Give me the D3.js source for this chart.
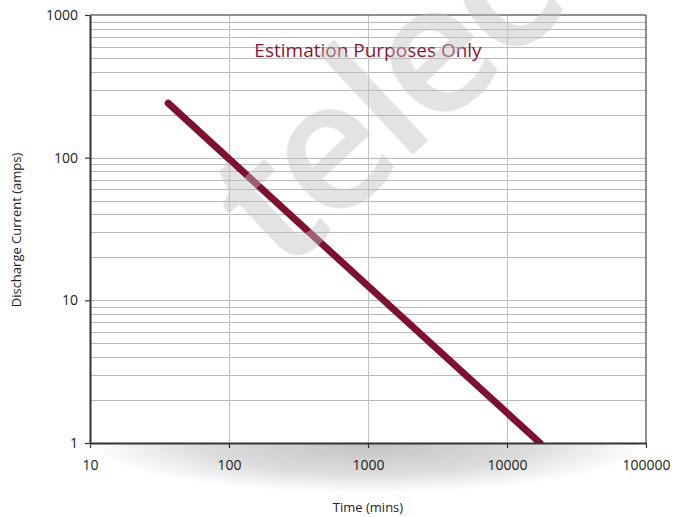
<!DOCTYPE html>
<html>
<head>
<meta charset="utf-8">
<script src="https://cdn.jsdelivr.net/npm/d3@7"></script>
<style>
  html, body { margin: 0; padding: 0; background: #fff; }
  svg { display: block; }
</style>
</head>
<body>
<svg id="chart" width="673" height="517"></svg>
<script>
// ---- data ----
const timeMins = [36.5, 100, 1000, 10000, 17300];
const currentAmps = [241, 98, 12.6, 1.63, 1];
const xTickValues = [10, 100, 1000, 10000, 100000];
const xTickLabels = ["10", "100", "1000", "10000", "100000"];
const yTickValues = [1, 10, 100, 1000];
const yTickLabels = ["1", "10", "100", "1000"];
const titleText = "Estimation Purposes Only";
const xTitle = "Time (mins)";
const yTitle = "Discharge Current (amps)";
const watermarkText = "telecom";

const svg = d3.select("#chart");
const W = 673, H = 517;
const m = { left: 90, right: 27, top: 15, bottom: 74 };
const pw = W - m.left - m.right, ph = H - m.top - m.bottom;

const x = d3.scaleLog().domain([10, 100000]).range([m.left, m.left + pw]);
const y = d3.scaleLog().domain([1, 1000]).range([m.top + ph, m.top]);

const defs = svg.append("defs");
const grad = defs.append("radialGradient").attr("id", "shadow")
  .attr("cx", "50%").attr("cy", "50%").attr("r", "50%")
  .attr("fx", "50%").attr("fy", "50%");
grad.append("stop").attr("offset", "0%").attr("stop-color", "#c2c2c2");
grad.append("stop").attr("offset", "60%").attr("stop-color", "#dcdcdc");
grad.append("stop").attr("offset", "100%").attr("stop-color", "#ffffff");
defs.append("clipPath").attr("id", "below").append("rect")
  .attr("x", 0).attr("y", m.top + ph).attr("width", W).attr("height", 100);
defs.append("clipPath").attr("id", "plot").append("rect")
  .attr("x", m.left).attr("y", m.top).attr("width", pw).attr("height", ph);

// bottom shadow
svg.append("ellipse")
  .attr("cx", m.left + pw / 2).attr("cy", m.top + ph)
  .attr("rx", pw / 2 + 2).attr("ry", 50)
  .attr("fill", "url(#shadow)")
  .attr("clip-path", "url(#below)");

// grid
const minorY = [];
for (let d = 1; d < 1000; d *= 10) for (let k = 1; k <= 9; k++) minorY.push(d * k);
svg.append("g").selectAll("line").data(minorY.filter(v => v > 1 && v < 1000)).join("line")
  .attr("x1", m.left).attr("x2", m.left + pw)
  .attr("y1", d => Math.round(y(d)) + 0.5).attr("y2", d => Math.round(y(d)) + 0.5)
  .attr("stroke", "#b9b9b9").attr("stroke-width", 1);
svg.append("g").selectAll("line").data([100, 1000, 10000]).join("line")
  .attr("x1", d => Math.round(x(d)) + 0.5).attr("x2", d => Math.round(x(d)) + 0.5)
  .attr("y1", m.top).attr("y2", m.top + ph)
  .attr("stroke", "#c4c4c4").attr("stroke-width", 1);

// frame top/right
svg.append("line").attr("x1", m.left).attr("x2", m.left + pw).attr("y1", m.top).attr("y2", m.top)
  .attr("stroke", "#6a6a6a").attr("stroke-width", 1.5);
svg.append("line").attr("x1", m.left + pw).attr("x2", m.left + pw).attr("y1", m.top).attr("y2", m.top + ph)
  .attr("stroke", "#6a6a6a").attr("stroke-width", 1.5);

// data line
const line = d3.line().x((d, i) => x(timeMins[i])).y((d, i) => y(currentAmps[i]));
svg.append("g").attr("clip-path", "url(#plot)")
  .append("path").datum(timeMins).attr("d", line)
  .attr("fill", "none").attr("stroke", "#7e1030").attr("stroke-width", 7)
  .attr("stroke-linecap", "round").attr("stroke-linejoin", "round");

// axes
const xAxis = d3.axisBottom(x).tickValues(xTickValues)
  .tickFormat((d, i) => xTickLabels[i]).tickSize(5).tickSizeOuter(0).tickPadding(12);
const gx = svg.append("g").attr("transform", `translate(0,${m.top + ph})`).call(xAxis);
gx.select(".domain").attr("stroke", "#333").attr("stroke-width", 2);
gx.selectAll(".tick line").attr("stroke", "#333").attr("stroke-width", 1.2);
gx.selectAll("text").attr("font-family", "'Open Sans', sans-serif").attr("font-size", 14).attr("fill", "#222");

const yAxis = d3.axisLeft(y).tickValues(yTickValues)
  .tickFormat((d, i) => yTickLabels[i]).tickSize(5).tickSizeOuter(0).tickPadding(7);
const gy = svg.append("g").attr("transform", `translate(${m.left},0)`).call(yAxis);
gy.select(".domain").attr("stroke", "#333").attr("stroke-width", 2);
gy.selectAll(".tick line").attr("stroke", "#333").attr("stroke-width", 1.2);
gy.selectAll("text").attr("font-family", "'Open Sans', sans-serif").attr("font-size", 14).attr("fill", "#222");

// titles
svg.append("text").attr("x", x(1000)).attr("y", 57).attr("text-anchor", "middle")
  .attr("font-family", "'Open Sans', sans-serif").attr("font-size", 19)
  .attr("fill", "#8a1538").text(titleText);
svg.append("text").attr("x", 368).attr("y", 512).attr("text-anchor", "middle")
  .attr("font-family", "'Liberation Sans Narrow', 'Open Sans', sans-serif").attr("font-size", 13)
  .attr("fill", "#222").text(xTitle);
svg.append("text").attr("transform", "translate(21,230) rotate(-90)").attr("text-anchor", "middle")
  .attr("font-family", "'Liberation Sans Narrow', 'Open Sans', sans-serif").attr("font-size", 13)
  .attr("fill", "#222").text(yTitle);

// watermark
svg.append("text").attr("transform", "translate(283,276) rotate(-43)")
  .attr("font-family", "'Open Sans', sans-serif").attr("font-size", 182).attr("font-weight", 600)
  .attr("letter-spacing", -7)
  .attr("fill", "#c0c0c0").attr("fill-opacity", 0.45).text(watermarkText);
</script>
</body>
</html>
